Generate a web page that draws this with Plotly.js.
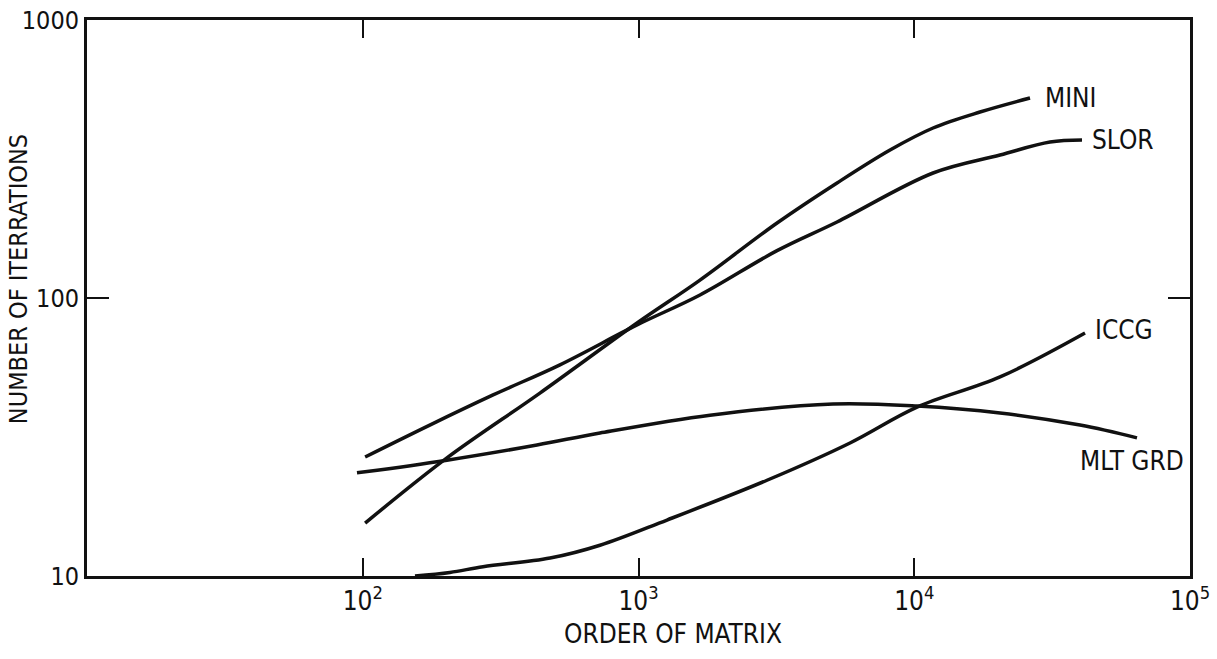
<!DOCTYPE html>
<html>
<head>
<meta charset="utf-8">
<script src="https://cdn.plot.ly/plotly-3.0.1.min.js"></script>
<style>
html,body{margin:0;padding:0;background:#fff;}
#chart{width:1217px;height:659px;}
</style>
</head>
<body>
<div id="chart"></div>
<script>
// Order of matrix (x) and number of iterations (y)
const miniX = [102, 202, 439, 988, 1671, 3180, 5248, 8170, 11700, 17310, 26290];
const miniY = [15.5, 26.6, 45.5, 81.3, 116.0, 186.1, 259.3, 340.7, 408.8, 466.7, 524.2];

const slorX = [102, 175, 297, 519, 988, 1671, 3180, 5248, 11700, 20470, 31070, 40580];
const slorY = [26.8, 34.9, 44.8, 57.5, 80.0, 102.5, 148.0, 187.7, 281.6, 326.9, 364.0, 370.1];

const iccgX = [154.7, 207, 273, 478, 725, 1269, 2924, 5848, 10233, 20470, 41620];
const iccgY = [10.0, 10.3, 10.8, 11.6, 12.9, 15.9, 22.1, 30.1, 40.5, 52.0, 74.8];

const mltX = [95.3, 102, 202, 428.5, 725, 1817, 5076, 10233, 20470, 39920, 64240];
const mltY = [23.5, 23.7, 26.1, 29.6, 32.7, 37.9, 41.6, 40.9, 38.6, 34.9, 31.4];

const seriesNames = ["MINI", "SLOR", "ICCG", "MLT GRD"];
const xTickVals = [100, 1000, 10000, 100000];
const xTickText = ["10<sup>2</sup>", "10<sup>3</sup>", "10<sup>4</sup>", "10<sup>5</sup>"];
const yTickVals = [10, 100, 1000];
const yTickText = ["10", "100", "1000"];
const xTitle = "ORDER OF MATRIX";
const yTitle = "NUMBER OF ITERRATIONS";

const FONT = "'Liberation Sans Narrow', 'DejaVu Sans Condensed', 'Roboto', sans-serif";
const INK = "#111111";
const SIZE = 26;

function line(x, y, name) {
  return {
    x: x, y: y, name: name, type: "scatter", mode: "lines",
    line: {color: INK, width: 3.5, shape: "spline", smoothing: 1},
    hoverinfo: "skip", showlegend: false
  };
}

const data = [
  line(miniX, miniY, seriesNames[0]),
  line(slorX, slorY, seriesNames[1]),
  line(iccgX, iccgY, seriesNames[2]),
  line(mltX, mltY, seriesNames[3])
];

function label(text, x, y) {
  return {text: text, x: Math.log10(x), y: Math.log10(y), xref: "x", yref: "y",
          xanchor: "left", yanchor: "middle", showarrow: false,
          font: {family: FONT, size: SIZE, color: INK}};
}

const layout = {
  width: 1217, height: 659,
  margin: {l: 87, r: 27, t: 20, b: 83},
  paper_bgcolor: "#ffffff", plot_bgcolor: "#ffffff",
  font: {family: FONT, size: SIZE, color: INK},
  xaxis: {
    type: "log", range: [1, 5],
    tickvals: xTickVals, ticktext: xTickText,
    ticks: "inside", ticklen: 18, tickwidth: 2, tickcolor: INK,
    showline: true, linewidth: 3, linecolor: INK, mirror: "ticks",
    showgrid: false, zeroline: false,
    tickfont: {family: FONT, size: SIZE, color: INK}
  },
  yaxis: {
    type: "log", range: [1, 3],
    tickvals: yTickVals, ticktext: yTickText,
    ticks: "inside", ticklen: 22, tickwidth: 2, tickcolor: INK,
    showline: true, linewidth: 3, linecolor: INK, mirror: "ticks",
    showgrid: false, zeroline: false,
    tickfont: {family: FONT, size: 25, color: INK}
  },
  annotations: [
    label(seriesNames[0], 29300, 524),
    label(seriesNames[1], 43300, 370),
    label(seriesNames[2], 44500, 76.7),
    label(seriesNames[3], 39300, 25.9),
    {text: xTitle, xref: "paper", yref: "paper", x: 0.531, y: -0.104,
     xanchor: "center", yanchor: "middle", showarrow: false,
     font: {family: FONT, size: SIZE, color: INK}},
    {text: yTitle, xref: "paper", yref: "paper", x: -0.0625, y: 0.534,
     xanchor: "center", yanchor: "middle", textangle: -90, showarrow: false,
     font: {family: FONT, size: 25, color: INK}}
  ]
};

Plotly.newPlot("chart", data, layout, {displayModeBar: false, staticPlot: true});
</script>
</body>
</html>
